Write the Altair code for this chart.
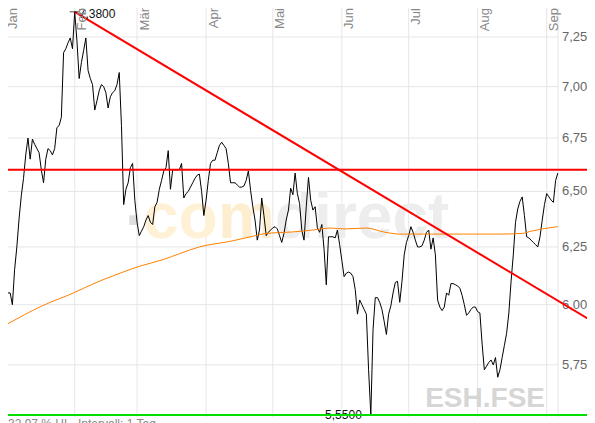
import altair as alt
import pandas as pd

# ---------------- data ----------------
price_start = "2023-01-02"
price_values = [
    6.05, 6.05, 6.00, 6.15, 6.25, 6.375, 6.48, 6.56, 6.67, 6.75,
    6.65, 6.745, 6.72, 6.70, 6.68, 6.60, 6.54, 6.65, 6.70, 6.69,
    6.67, 6.70, 6.80, 6.81, 6.85, 7.17, 7.19, 7.22, 7.245, 7.19,
    7.38, 7.23, 7.04, 7.12, 7.18, 7.245, 7.08, 7.04, 7.01, 6.885,
    6.93, 6.98, 7.01, 7.00, 6.97, 6.895, 6.95, 6.97, 6.98, 7.01,
    7.07, 6.81, 6.44, 6.51, 6.54, 6.61, 6.63, 6.46, 6.36, 6.30,
    6.32, 6.34, 6.37, 6.39, 6.36, 6.35, 6.43, 6.45, 6.51, 6.55,
    6.595, 6.61, 6.69, 6.51, 6.60, 6.60, 6.60, 6.60, 6.63, 6.47,
    6.49, 6.50, 6.52, 6.54, 6.56, 6.575, 6.58, 6.50, 6.39, 6.46,
    6.55, 6.63, 6.645, 6.645, 6.68, 6.715, 6.73, 6.715, 6.70, 6.63,
    6.54, 6.54, 6.54, 6.53, 6.52, 6.52, 6.525, 6.55, 6.595, 6.505,
    6.43, 6.37, 6.28, 6.325, 6.47, 6.39, 6.30, 6.315, 6.325, 6.335,
    6.34, 6.33, 6.30, 6.27, 6.31, 6.37, 6.415, 6.515, 6.485, 6.585,
    6.49, 6.445, 6.325, 6.28, 6.43, 6.565, 6.46, 6.415, 6.43, 6.335,
    6.315, 6.35, 6.24, 6.085, 6.295, 6.295, 6.295, 6.29, 6.325, 6.26,
    6.19, 6.12, 6.135, 6.14, 6.135, 6.12, 6.065, 5.96, 6.02, 6.00,
    5.98, 5.96, 5.73, 5.55, 5.895, 6.03, 6.03, 6.01, 5.98, 5.93,
    5.875, 5.96, 5.995, 6.05, 6.095, 6.10, 6.01, 6.10, 6.215, 6.27,
    6.30, 6.34, 6.315, 6.28, 6.25, 6.25, 6.255, 6.28, 6.315, 6.325,
    6.24, 6.29, 6.215, 6.02, 5.99, 5.975, 5.99, 6.05, 6.04, 6.09,
    6.09, 6.085, 6.08, 6.07, 6.04, 6.00, 5.955, 5.965, 5.98, 5.99,
    5.99, 5.97, 5.965, 5.835, 5.73, 5.745, 5.76, 5.77, 5.75, 5.78,
    5.70, 5.73, 5.78, 5.83, 5.88, 5.965, 6.10, 6.215, 6.36, 6.42,
    6.455, 6.475, 6.39, 6.295, 6.29, 6.28, 6.27, 6.26, 6.25, 6.295,
    6.37, 6.44, 6.49, 6.475, 6.46, 6.45, 6.55, 6.585,
]

ma_dates = [
    "2023-01-02", "2023-01-06", "2023-01-13", "2023-01-21", "2023-01-29",
    "2023-02-05", "2023-02-12", "2023-02-20", "2023-03-02", "2023-03-13",
    "2023-03-20", "2023-03-29", "2023-04-12", "2023-04-21", "2023-04-28",
    "2023-05-09", "2023-05-19", "2023-05-27", "2023-06-02", "2023-06-12",
    "2023-06-20", "2023-06-27", "2023-07-11", "2023-07-25", "2023-08-11",
    "2023-08-21", "2023-08-25", "2023-08-30", "2023-09-06",
]
ma_values = [
    5.92, 5.94, 5.975, 6.01, 6.04,
    6.07, 6.10, 6.13, 6.165, 6.195,
    6.22, 6.25, 6.275, 6.295, 6.31,
    6.316, 6.325, 6.334, 6.33, 6.334,
    6.316, 6.307, 6.307, 6.307, 6.307,
    6.31, 6.32, 6.33, 6.34,
]

month_names = ["Jan", "Feb", "Mär", "Apr", "Mai", "Jun", "Jul", "Aug", "Sep"]
month_dates = ["2023-01-01", "2023-02-01", "2023-03-01", "2023-04-01", "2023-05-01",
               "2023-06-01", "2023-07-01", "2023-08-01", "2023-09-01"]

resistance_value = 6.60
trend_dates = ["2023-02-01", "2023-09-22T17:00:00Z"]
trend_values = [7.38, 5.923]
y_ticks = [5.75, 6.0, 6.25, 6.5, 6.75, 7.0, 7.25]
y_domain = [5.542, 7.400]

info_left = "32,97 % HL"
info_mid = "Intervall: 1 Tag"
symbol = "ESH.FSE"
logo_texts = [".", "co", "m", "direct"]
logo_colors = ["#dedede", "#fff1d6", "#fdeed0", "#ededed"]

# ---------------- tables ----------------
price = pd.DataFrame({
    "date": pd.date_range(price_start, periods=len(price_values), freq="D").strftime("%Y-%m-%d"),
    "value": price_values,
})
ma = pd.DataFrame({"date": ma_dates, "value": ma_values})
months = pd.DataFrame({"date": month_dates, "label": month_names})
trend = pd.DataFrame({"date": trend_dates, "value": trend_values})
ticks = pd.DataFrame({"value": y_ticks,
                      "label": [f"{v:.2f}".replace(".", ",") for v in y_ticks]})
hi = price.loc[[price["value"].idxmax()]].copy()
lo = price.loc[[price["value"].idxmin()]].copy()
fmt4 = lambda v: f"{v:.4f}".replace(".", ",")
hi["label"] = hi["value"].map(fmt4)
lo["label"] = lo["value"].map(fmt4)
levels = pd.DataFrame({"value": [resistance_value, float(lo["value"].iloc[0])],
                       "kind": ["res", "sup"]})

FONT = "Liberation Sans"
GRID = "#e6e5ea"
W, H = 550, 409

x_scale = alt.Scale(
    type="utc",
    domain=[alt.DateTime(year=2023, month=1, date=2, hours=0, minutes=48, utc=True),
            alt.DateTime(year=2023, month=9, date=6, hours=1, minutes=55, utc=True)],
)
y_scale = alt.Scale(type="log", domain=y_domain, nice=False, zero=False)

X = lambda f="date": alt.X(f"{f}:T", scale=x_scale, axis=None)
Y = lambda f="value": alt.Y(f"{f}:Q", scale=y_scale, axis=None)

# grid
y_grid = alt.Chart(ticks).mark_rule(color=GRID, strokeWidth=1).encode(
    y=Y(), x=alt.value(0), x2=alt.value(W))
x_grid = alt.Chart(months).mark_rule(color=GRID, strokeWidth=1).encode(
    x=X(), y=alt.value(0), y2=alt.value(H))
frame = alt.Chart(pd.DataFrame({"k": [0]})).mark_rule(color=GRID, strokeWidth=1).encode(
    x=alt.value(W), y=alt.value(0), y2=alt.value(H))
y_labels = alt.Chart(ticks).mark_text(align="left", baseline="middle", fontSize=13,
                                      color="#666666", font=FONT).encode(
    y=Y(), x=alt.value(W + 4), text="label:N")

# watermarks
logo_layers = []
logo_x = [117, 135, 210, 267]
logo_y = [217, 230, 230, 230]
for i, t in enumerate(logo_texts):
    logo_layers.append(
        alt.Chart(pd.DataFrame({"t": [t]})).mark_text(
            align="left", baseline="alphabetic", fontSize=64, fontWeight="bold",
            font=FONT, color=logo_colors[i]).encode(
            x=alt.value(logo_x[i]), y=alt.value(logo_y[i]), text="t:N")
    )
symbol_text = alt.Chart(pd.DataFrame({"t": [symbol]})).mark_text(
    align="right", baseline="alphabetic", fontSize=28, fontWeight="bold",
    color="#d6d6d6", font=FONT).encode(x=alt.value(537), y=alt.value(399), text="t:N")

# series
price_line = alt.Chart(price).mark_line(color="black", strokeWidth=1).encode(x=X(), y=Y())
ma_line = alt.Chart(ma).mark_line(color="#ff8000", strokeWidth=1,
                                  interpolate="monotone").encode(x=X(), y=Y())
trend_line = alt.Chart(trend).mark_line(color="#ff0000", strokeWidth=2).encode(x=X(), y=Y())
level_lines = alt.Chart(levels).mark_rule(strokeWidth=2).encode(
    y=Y(), x=alt.value(-8), x2=alt.value(600),
    color=alt.Color("kind:N", scale=alt.Scale(domain=["res", "sup"],
                                              range=["#ff0000", "#00e000"]), legend=None),
)

month_text = alt.Chart(months).mark_text(
    angle=270, align="right", baseline="top", fontSize=13, color="#888888", font=FONT,
    dy=1.5
).encode(x=X(), y=alt.value(0), text="label:N")

hi_tick = alt.Chart(hi).mark_tick(orient="horizontal", size=10, thickness=1,
                                  color="black").encode(x=X(), y=Y())
hi_text = alt.Chart(hi).mark_text(align="left", baseline="middle", dx=4, dy=2, fontSize=12,
                                  color="#111111", font=FONT).encode(x=X(), y=Y(), text="label:N")
lo_text = alt.Chart(lo).mark_text(align="right", baseline="middle", dx=-9, fontSize=12,
                                  color="#111111", font=FONT).encode(x=X(), y=Y(), text="label:N")

info = pd.DataFrame({"t": [info_left, info_mid]})
info_layers = [
    alt.Chart(info.iloc[[i]]).mark_text(align="left", baseline="top", fontSize=12,
                                         color="#888888", font=FONT).encode(
        x=alt.value(px), y=alt.value(411), text="t:N")
    for i, px in enumerate([0, 70])
]

chart = alt.layer(
    y_grid, x_grid, frame,
    *logo_layers,
    symbol_text,
    y_labels,
    price_line,
    ma_line,
    lo_text,
    level_lines,
    trend_line,
    hi_tick,
    hi_text,
    month_text,
    *info_layers,
).properties(
    width=W,
    height=H,
    autosize=alt.AutoSizeParams(type="none"),
    padding={"left": 0, "top": 0, "right": 29, "bottom": 10},
).configure_view(strokeWidth=0)

chart.save("out.html", embed_options={"renderer": "svg", "actions": False})
